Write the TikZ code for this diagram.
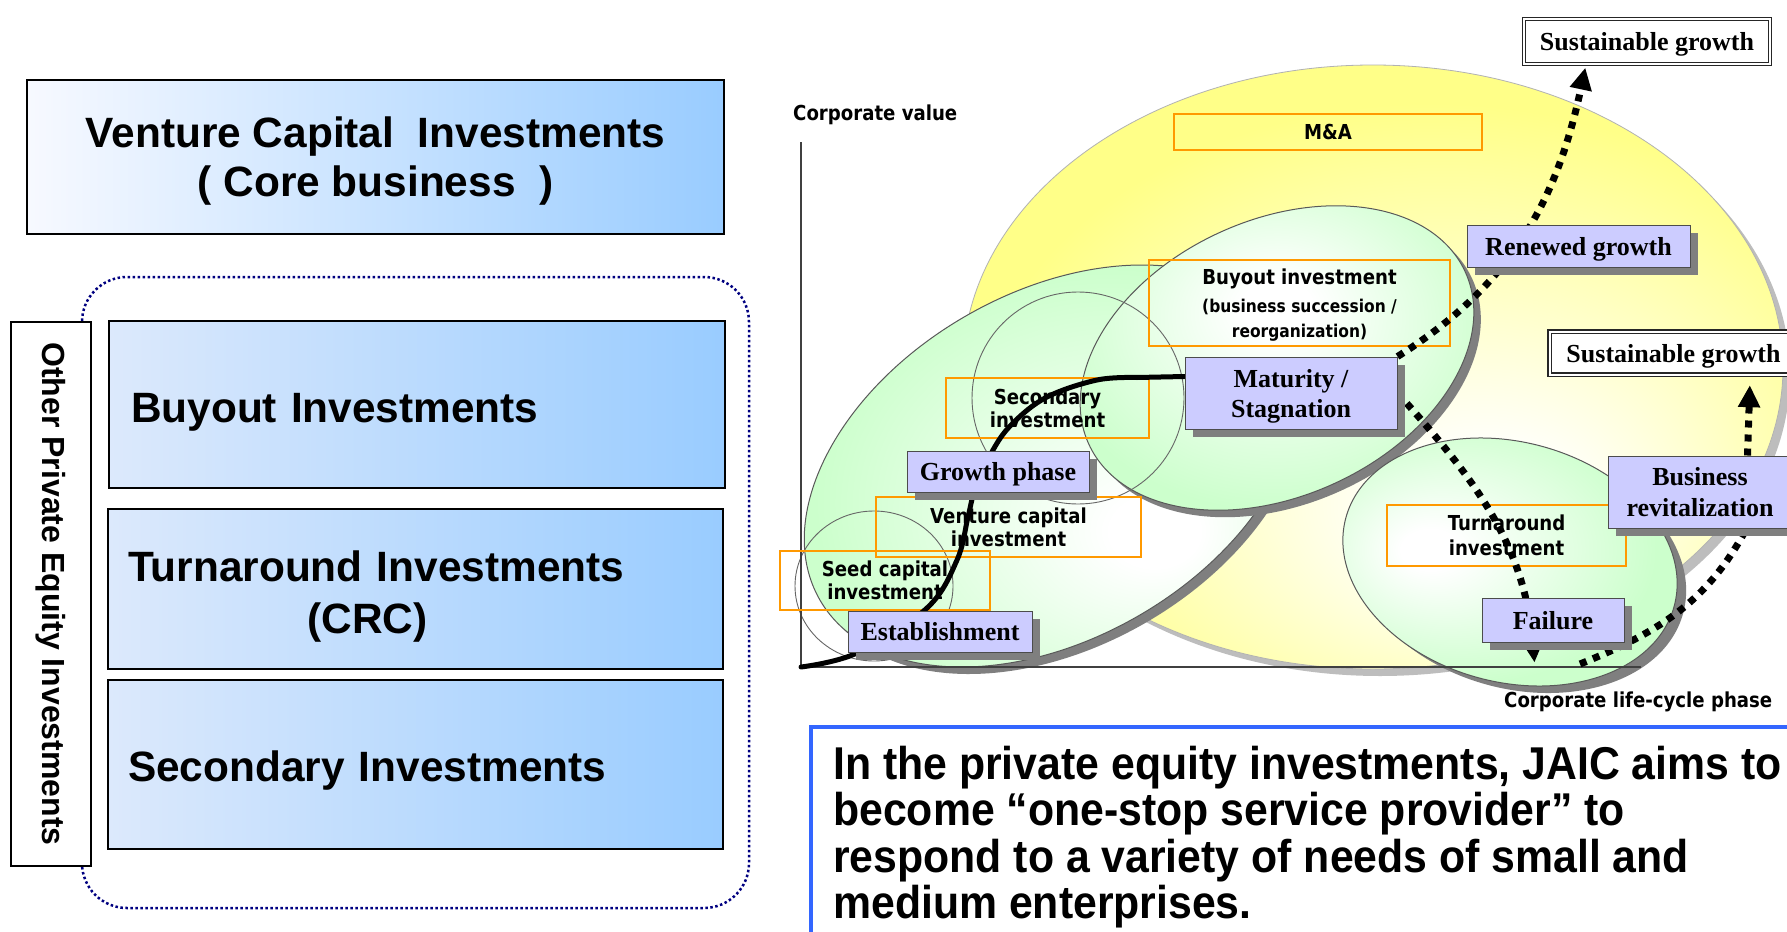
\documentclass[tikz,border=0pt]{standalone}
\usepackage{fontspec}
\setmainfont{Liberation Sans}
\newfontfamily\serifface{Liberation Serif}
\newfontfamily\narrowface{Liberation Sans}[FakeStretch=0.93]
\newfontfamily\tahface{DejaVu Sans}[FakeStretch=0.88]
\usetikzlibrary{arrows.meta,calc,shadows}
\pgfdeclarelayer{back}
\pgfdeclarelayer{wires}
\pgfsetlayers{back,wires,main}

\definecolor{lav}{HTML}{CCCCFF}
\definecolor{orng}{HTML}{FF9900}
\definecolor{grn}{HTML}{CCFFCC}
\definecolor{yel}{HTML}{FFFF88}
\definecolor{shd}{HTML}{7F7F7F}
\definecolor{yshd}{HTML}{BDBDBD}
\definecolor{skyb}{HTML}{99CCFF}
\definecolor{paleA}{HTML}{F7F9FF}
\definecolor{paleB}{HTML}{DCE9FC}
\definecolor{dotnavy}{HTML}{000080}
\definecolor{msgblue}{HTML}{3366FF}

% soft glows for the phase ellipses and the large M&A disc
\pgfdeclareradialshading{glowA}{\pgfpoint{10bp}{-8bp}}{color(0bp)=(white); color(4bp)=(white); color(26bp)=(grn); color(50bp)=(grn)}
\pgfdeclareradialshading{glowB}{\pgfpoint{0bp}{8bp}}{color(0bp)=(white); color(4bp)=(white); color(26bp)=(grn); color(50bp)=(grn)}
\pgfdeclareradialshading{glowC}{\pgfpoint{-12bp}{0bp}}{color(0bp)=(white); color(4bp)=(white); color(26bp)=(grn); color(50bp)=(grn)}
\pgfdeclareradialshading{sunglow}{\pgfpoint{8bp}{-14bp}}{color(0bp)=(white); color(5bp)=(white); color(28bp)=(yel); color(50bp)=(yel)}

\newcommand\fntBox{\bfseries\fontsize{42.4}{49}\selectfont}
\newcommand\fntSide{\bfseries\fontsize{32}{38}\selectfont}
\newcommand\fntMsg{\narrowface\bfseries\fontsize{46}{46.4}\selectfont}
\newcommand\fntLab{\serifface\bfseries\fontsize{26}{30}\selectfont}
\newcommand\fntTah{\tahface\bfseries\fontsize{20.6}{23}\selectfont}
\newcommand\fntTahS{\tahface\bfseries\fontsize{17.6}{25}\selectfont}

\begin{document}
\begin{tikzpicture}[x=1pt,y=1pt,
  leftbox/.style={draw=black, line width=1.5pt, font=\fntBox, inner ysep=0pt, right color=skyb},
  lavbox/.style={draw=black!70, line width=1pt, fill=lav, font=\fntLab, align=center, inner sep=0pt, text depth=0pt,
     drop shadow={shadow xshift=8pt, shadow yshift=-8pt, fill=shd, opacity=1}},
  obox/.style={draw=orng, line width=2pt, font=\fntTah, align=center, inner sep=0pt, text depth=0pt},
  susbox/.style={draw=black!85, line width=1.4pt, double=white, double distance=2pt, fill=white, font=\fntLab, inner sep=0pt, text depth=0pt},
  ring/.style={draw=black!60, line width=0.9pt},
  dotpath/.style={draw=black, line width=7pt, dash pattern=on 7pt off 7pt},
  bigtip/.style={-{Triangle[width=21pt,length=22pt]}},
  scurve/.style={draw=black, line width=5pt, line cap=round},
]
\useasboundingbox (0,0) rectangle (1787,-931);

\begin{pgfonlayer}{back}
  \fill[white] (0,0) rectangle (1787,-931);
  % large M&A disc
  \fill[yshd] (1380,-374) ellipse [x radius=410, y radius=302];
  \shadedraw[shading=sunglow, draw=black!30, line width=0.8pt] (1373,-367) ellipse [x radius=410, y radius=302];
  % venture ellipse
  \fill[shd, rotate around={30:(1059,-473)}] (1059,-473) ellipse [x radius=268, y radius=173];
  \shadedraw[shading=glowA, draw=black!65, line width=1pt, rotate around={30:(1052,-466)}] (1052,-466) ellipse [x radius=268, y radius=173];
  % buyout ellipse
  \fill[shd, rotate around={24.6:(1284,-365)}] (1284,-365) ellipse [x radius=207, y radius=138];
  \shadedraw[shading=glowB, draw=black!65, line width=1pt, rotate around={24.6:(1277,-358)}] (1277,-358) ellipse [x radius=207, y radius=138];
  % turnaround ellipse
  \fill[shd, rotate around={-15:(1519,-569)}] (1519,-569) ellipse [x radius=170, y radius=120];
  \shadedraw[shading=glowC, draw=black!65, line width=1pt, rotate around={-15:(1510,-562)}] (1510,-562) ellipse [x radius=170, y radius=120];
  % thin rings
  \draw[ring] (874,-586) ellipse [x radius=79, y radius=75];
  \draw[ring] (1078,-398) circle [radius=106];
  % axes
  \draw[black!75, line width=1.5pt] (801,-142) -- (801,-667) -- (1641,-667);
  \coordinate (origin) at (801,-667);
  \node[anchor=west, font=\fntTah, inner sep=0pt] (ylab) at (793,-115) {Corporate value};
  \node[anchor=west, font=\fntTah, inner sep=0pt] (xlab) at (1504,-702) {Corporate life-cycle phase};
  % investment kinds
  \node[obox, minimum width=308, minimum height=36] (ma) at (1328,-132) {M\&A};
  \node[obox, minimum width=301, minimum height=86, font=\fntTahS] (buy) at (1299.5,-303)
     {{\fntTah Buyout investment}\\[3pt](business succession /\\reorganization)};
  \node[obox, minimum width=203, minimum height=60] (sec) at (1047.5,-408) {Secondary\\investment};
  \node[obox, minimum width=265, minimum height=60] (vc) at (1008.5,-527) {Venture capital\\investment};
  \node[obox, minimum width=210, minimum height=59] (seed) at (885,-580.5) {Seed capital\\investment};
  \node[obox, minimum width=239, minimum height=61, font=\tahface\bfseries\fontsize{20.6}{25}\selectfont] (turn) at (1506.5,-535.5) {Turnaround\\investment};
\end{pgfonlayer}

% life-cycle phases
\node[lavbox, minimum width=184, minimum height=41] (est) at (940,-631.5) {Establishment};
\node[lavbox, minimum width=182, minimum height=41] (grow) at (998,-471.5) {Growth phase};
\node[lavbox, minimum width=212, minimum height=72] (mat) at (1291,-393) {Maturity /\\Stagnation};
\node[lavbox, minimum width=223, minimum height=42] (ren) at (1578.5,-246) {Renewed growth};
\node[lavbox, minimum width=142, minimum height=44] (fail) at (1553,-620) {Failure};
\node[lavbox, minimum width=184, minimum height=72, font=\serifface\bfseries\fontsize{26}{31}\selectfont] (biz) at (1700,-492) {Business\\revitalization};
\node[susbox, minimum width=246, minimum height=45] (sus1) at (1647,-41.5) {Sustainable growth};
\node[susbox, minimum width=248, minimum height=43] (sus2) at (1673.5,-353) {Sustainable growth};

\coordinate (matjoin) at ($(mat.north west)+(0,-20)$);
\coordinate (failtip) at ($(fail.south west)+(53,-20)$);
\coordinate (revstart) at (1580,-664);

\begin{pgfonlayer}{wires}
  \draw[scurve] plot[smooth, tension=0.6] coordinates {(origin) (857,-653) (927,-608) (957,-560) (968,-517) (975,-490) (993,-450) (1013,-423) (1047,-397) (1097,-380) (1137,-377.5)} -- (matjoin);
  \draw[dotpath, bigtip] (mat.north east) to[out=32,in=-102] ($(sus1.south west)+(62,-3)$);
  \draw[dotpath, bigtip] (mat.east) to[out=-48,in=95] (failtip);
  \draw[dotpath] (revstart) to[out=22,in=-118] ($(biz.south west)+(139,0)$);
  \draw[dotpath, bigtip] ($(biz.north west)+(140,0)$) -- ($(sus2.south west)+(201,-10)$);
\end{pgfonlayer}

% left column
\draw[dotnavy, line width=2.5pt, dash pattern=on 2.5pt off 2.5pt, rounded corners=45pt] (82,-277) rectangle (749,-908);
\node[leftbox, left color=paleA, minimum width=697, minimum height=154, align=center, text depth=0pt] (vcbox) at (375.5,-157)
   {Venture Capital\ \ Investments\\(\ Core business\ \ )};
\node[draw=black, line width=1.5pt, fill=white, rotate=-90, minimum width=544, minimum height=80, inner sep=0pt, font=\fntSide] (side) at (51,-594)
   {Other Private Equity Investments};
\node[leftbox, left color=paleB, text width=572, inner xsep=22, minimum height=167, align=left, text height=36pt, text depth=0pt] (buybox) at (417,-404.5)
   {Buyout Investments};
\node[leftbox, left color=paleB, text width=575, inner xsep=20, minimum height=160, align=left,
      font=\bfseries\fontsize{42.4}{52}\selectfont] (turnbox) at (415.5,-589)
   {\rule{0pt}{45pt}Turnaround Investments\\\hspace*{179.5pt}(CRC)};
\node[leftbox, left color=paleB, text width=575, inner xsep=20, minimum height=169, align=left, text height=34pt, text depth=0pt] (secbox) at (415.5,-764.5)
   {Secondary Investments};

% message panel
\draw[msgblue, line width=4pt] (811,-945) -- (811,-727) -- (1800,-727);
\node[anchor=base west, align=left, inner sep=0pt, font=\fntMsg] (msg) at (833,-918.5)
   {In the private equity investments, JAIC aims to\\become “one-stop service provider” to\\respond to a variety of needs of small and\\medium enterprises.};
\end{tikzpicture}
\end{document}
